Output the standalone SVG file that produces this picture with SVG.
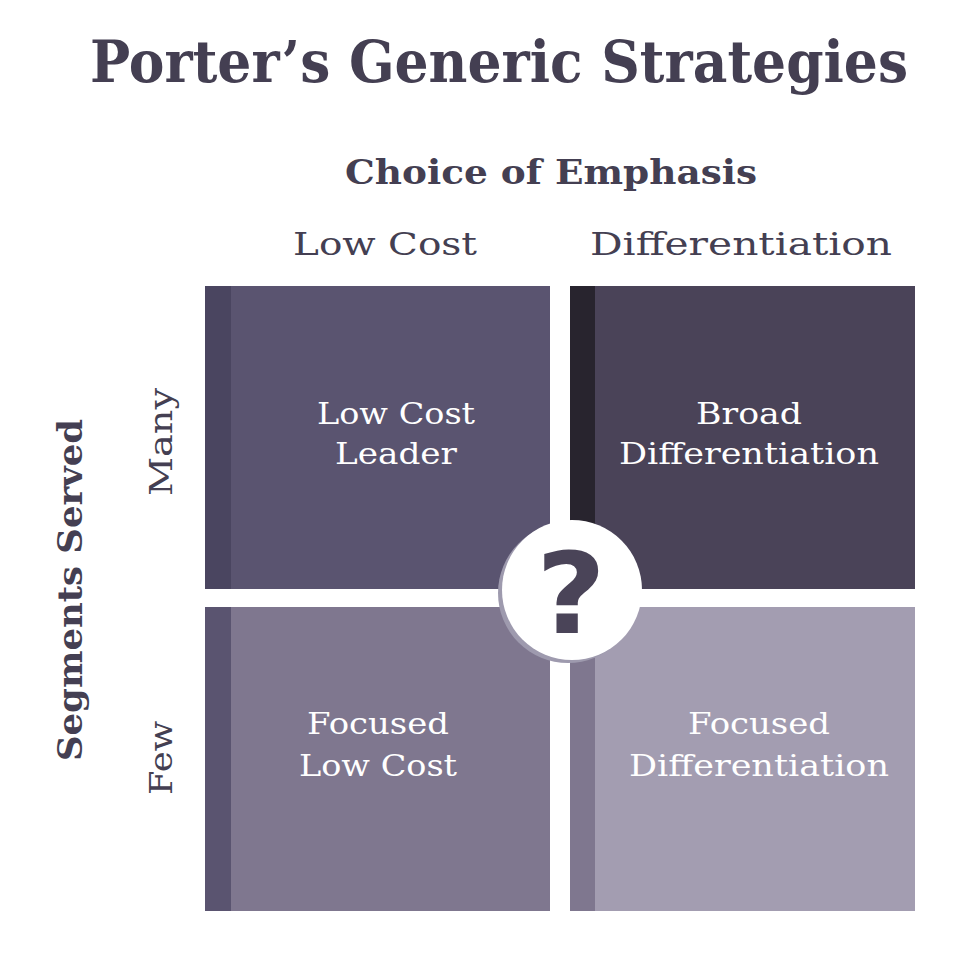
<svg xmlns="http://www.w3.org/2000/svg" width="980" height="980" viewBox="0 0 980 980">
<style>
.t{font-family:"DejaVu Serif","Liberation Serif",serif;fill:#443f52}
.b{font-weight:bold}
.w{font-family:"DejaVu Serif","Liberation Serif",serif;fill:#ffffff;font-size:30px}
</style>
<rect width="980" height="980" fill="#ffffff"/>
<g id="title"><text class="t b" x="499" y="82" font-size="57" text-anchor="middle" textLength="818" lengthAdjust="spacingAndGlyphs">Porter’s Generic Strategies</text></g>
<g id="axis-x"><text class="t b" x="551" y="184" font-size="34" text-anchor="middle" textLength="412" lengthAdjust="spacingAndGlyphs">Choice of Emphasis</text>
<text class="t" x="385" y="255" font-size="32" text-anchor="middle" textLength="184" lengthAdjust="spacingAndGlyphs">Low Cost</text>
<text class="t" x="741" y="255" font-size="32" text-anchor="middle" textLength="302" lengthAdjust="spacingAndGlyphs">Differentiation</text></g>
<g id="axis-y"><text class="t b" transform="translate(82,590) rotate(-90)" font-size="34" text-anchor="middle" textLength="342" lengthAdjust="spacingAndGlyphs">Segments Served</text>
<text class="t" transform="translate(172,442) rotate(-90)" font-size="32" text-anchor="middle" textLength="108" lengthAdjust="spacingAndGlyphs">Many</text>
<text class="t" transform="translate(172,758) rotate(-90)" font-size="32" text-anchor="middle" textLength="74" lengthAdjust="spacingAndGlyphs">Few</text></g>
<g id="q-low-cost-leader"><rect x="205" y="286" width="345" height="303" fill="#5a5470"/><rect x="205" y="286" width="26" height="303" fill="#4a4560"/>
<text class="w" x="396" y="424" text-anchor="middle" textLength="158" lengthAdjust="spacingAndGlyphs">Low Cost</text>
<text class="w" x="396" y="464" text-anchor="middle" textLength="122" lengthAdjust="spacingAndGlyphs">Leader</text></g>
<g id="q-broad-differentiation"><rect x="570" y="286" width="345" height="303" fill="#4a4358"/><rect x="570" y="286" width="25" height="303" fill="#28242e"/>
<text class="w" x="749" y="424" text-anchor="middle" textLength="106" lengthAdjust="spacingAndGlyphs">Broad</text>
<text class="w" x="749" y="464" text-anchor="middle" textLength="260" lengthAdjust="spacingAndGlyphs">Differentiation</text></g>
<g id="q-focused-low-cost"><rect x="205" y="607" width="345" height="304" fill="#7f778f"/><rect x="205" y="607" width="26" height="304" fill="#5a5470"/>
<text class="w" x="378" y="734" text-anchor="middle" textLength="142" lengthAdjust="spacingAndGlyphs">Focused</text>
<text class="w" x="378" y="776" text-anchor="middle" textLength="158" lengthAdjust="spacingAndGlyphs">Low Cost</text></g>
<g id="q-focused-differentiation"><rect x="570" y="607" width="345" height="304" fill="#a39db1"/><rect x="570" y="607" width="25" height="304" fill="#7f778f"/>
<text class="w" x="759" y="734" text-anchor="middle" textLength="142" lengthAdjust="spacingAndGlyphs">Focused</text>
<text class="w" x="759" y="776" text-anchor="middle" textLength="260" lengthAdjust="spacingAndGlyphs">Differentiation</text></g>
<g id="center-question"><circle cx="568" cy="593" r="70" fill="#9e9aae"/><circle cx="572" cy="590" r="70" fill="#ffffff"/>
<text x="571" y="633" font-family="DejaVu Sans, Liberation Sans, sans-serif" font-weight="bold" font-size="112" fill="#4a4458" text-anchor="middle" textLength="70" lengthAdjust="spacingAndGlyphs">?</text></g>
</svg>
